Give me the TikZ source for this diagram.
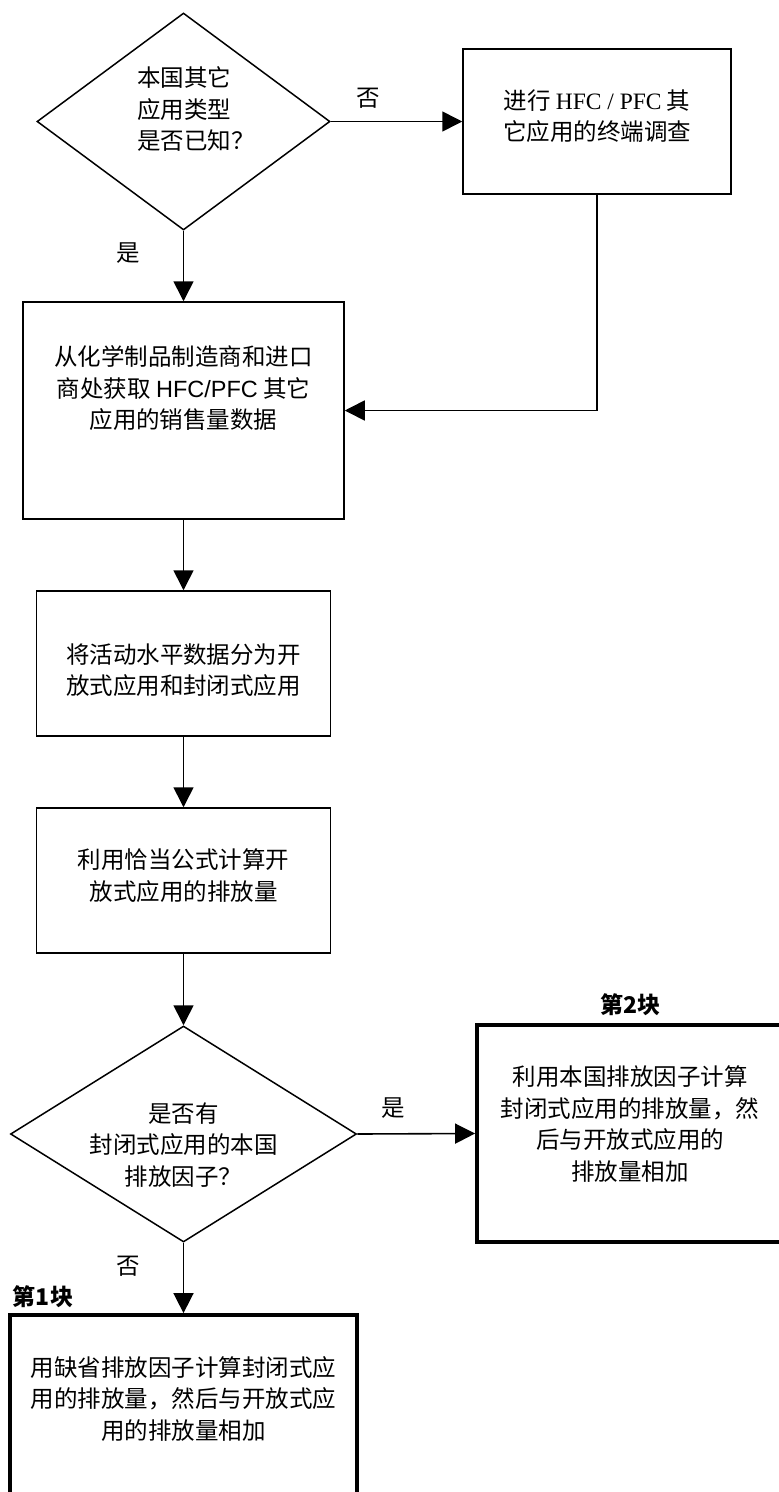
\documentclass[tikz,border=0pt]{standalone}
\usepackage{fontspec}
\setmainfont{Noto Sans CJK SC}
\newfontfamily\serifface{Liberation Serif}
\newfontfamily\sansface{Liberation Sans}
\usetikzlibrary{shapes.geometric,arrows.meta}

\tikzset{
  body/.style={font=\fontsize{23.5}{31.5}\selectfont, inner sep=0pt, align=center},
  flowbox/.style={draw=black, line width=1.5pt, rectangle, inner sep=0pt},
  keybox/.style={draw=black, line width=3.8pt, rectangle, inner sep=0pt},
  decision/.style={draw=black, line width=1.5pt, diamond, inner sep=0pt},
  answer/.style={font=\fontsize{23.5}{28}\selectfont, inner sep=0pt},
  blocktag/.style={font=\fontsize{23}{28}\selectfont\bfseries, inner sep=0pt},
  flow/.style={line width=1.6pt, -{Triangle[length=20pt,width=20pt]}},
}

\begin{document}
\begin{tikzpicture}[x=1pt,y=-1pt]
\fill[white] (0,0) rectangle (779,1492);
\clip (0,0) rectangle (779,1492);

% decisions
\node[decision, minimum width=293pt, minimum height=217pt] (d1) at (183.5,121.5) {};
\node[body, anchor=west, align=left] (d1t) at (137,109) {本国其它\\应用类型\\是否已知？};

\node[decision, minimum width=346pt, minimum height=216pt] (d2) at (183.5,1134) {};
\node[body] (d2t) at (183.5,1145) {是否有\\封闭式应用的本国\\排放因子？};

% process boxes
\node[flowbox, minimum width=268pt, minimum height=145pt] (b1) at (597,121.5) {};
\node[body] (b1t) at (597,116) {进行 {\serifface HFC / PFC} 其\\它应用的终端调查};

\node[flowbox, minimum width=321pt, minimum height=217pt] (b2) at (183.5,410.5) {};
\node[body] (b2t) at (183.5,388.5) {从化学制品制造商和进口\\商处获取 {\sansface HFC/PFC} 其它\\应用的销售量数据};

\node[flowbox, minimum width=294pt, minimum height=145pt] (b3) at (183.5,663.5) {};
\node[body] (b3t) at (183.5,670) {将活动水平数据分为开\\放式应用和封闭式应用};

\node[flowbox, minimum width=294pt, minimum height=145pt] (b4) at (183.5,880.5) {};
\node[body] (b4t) at (183.5,875.5) {利用恰当公式计算开\\放式应用的排放量};

% result blocks
\node[keybox, minimum width=306pt, minimum height=217pt] (b5) at (630,1133.5) {};
\node[body] (b5t) at (630,1124) {利用本国排放因子计算\\封闭式应用的排放量，然\\后与开放式应用的\\排放量相加};

\node[keybox, minimum width=347pt, minimum height=217pt] (b6) at (183.5,1423.5) {};
\node[body] (b6t) at (183.5,1399) {用缺省排放因子计算封闭式应\\用的排放量，然后与开放式应\\用的排放量相加};

% answers and block tags
\node[answer] (no1) at (368,98) {否};
\node[answer] (yes1) at (128,253) {是};
\node[answer] (yes2) at (393,1108) {是};
\node[answer] (no2) at (128,1266) {否};
\node[blocktag] (tag2) at (630,1005) {第2块};
\node[blocktag] (tag1) at (43,1297) {第1块};

% connectors
\draw[flow] (d1.east) -- (b1.west);
\draw[flow] (d1.south) -- (b2.north);
\draw[flow] (b1.south) |- (b2.east);
\draw[flow] (b2.south) -- (b3.north);
\draw[flow] (b3.south) -- (b4.north);
\draw[flow] (b4.south) -- (d2.north);
\draw[flow] (d2.east) -- (b5.west);
\draw[flow] (d2.south) -- (b6.north);
\end{tikzpicture}
\end{document}
